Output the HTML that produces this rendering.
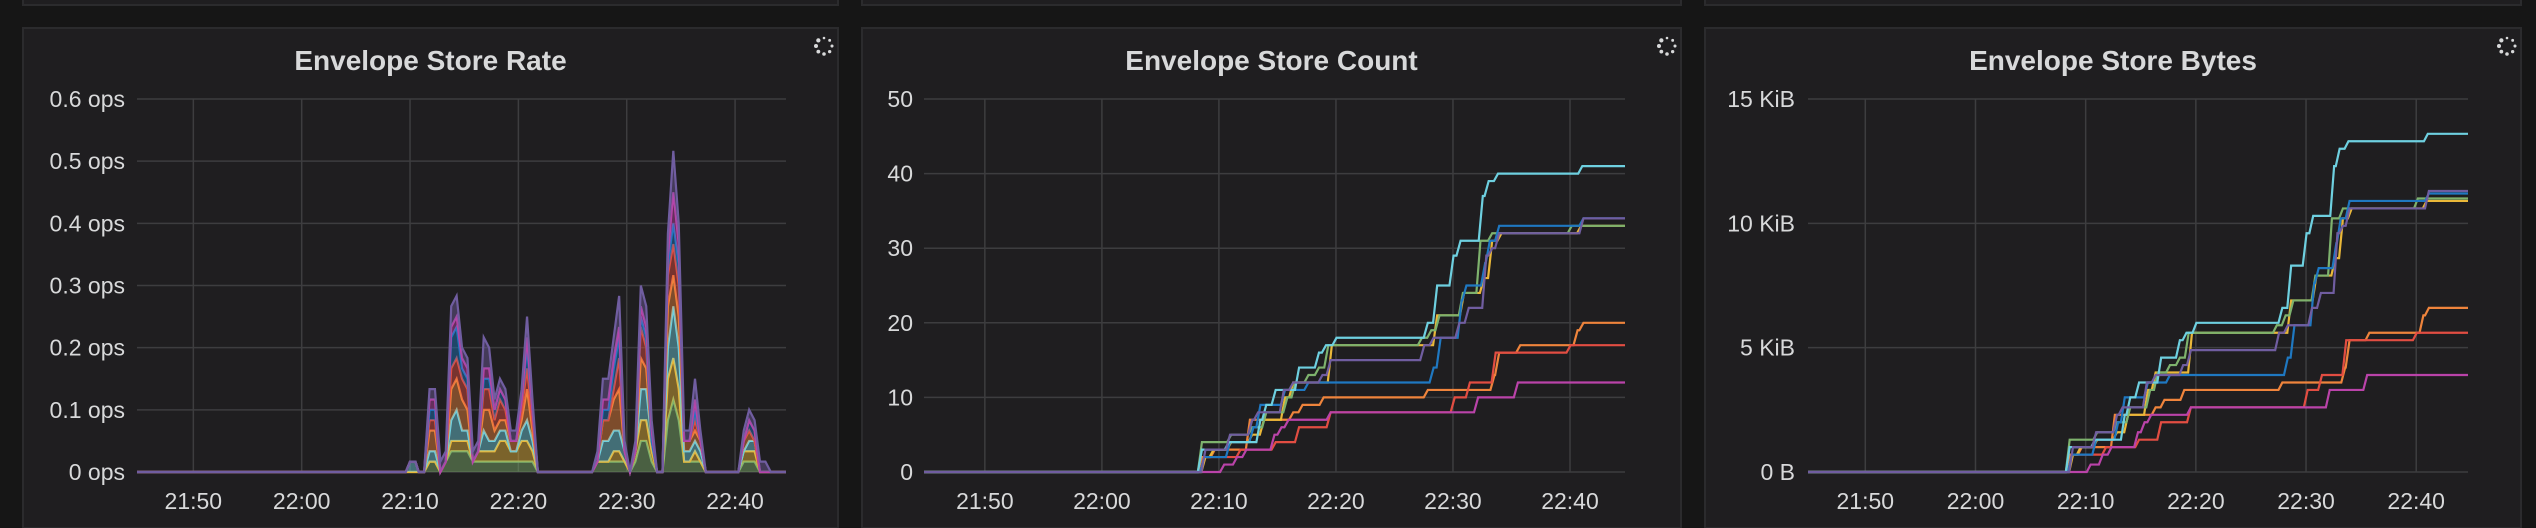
<!DOCTYPE html>
<html><head><meta charset="utf-8">
<style>
html,body{margin:0;padding:0;background:#161616;}
svg{display:block;}
text{font-family:"Liberation Sans",sans-serif;fill:#d8d9da;}
</style></head>
<body>
<svg id="root" width="2536" height="528" xmlns="http://www.w3.org/2000/svg">
  <rect x="0" y="0" width="2536" height="528" fill="#161616"/>
</svg>
<script>
// ---- shared data ----
const seriesNames = ["green","yellow","cyan","orange","red","blue","magenta","violet"];
const seriesColors = ["#7EB26D","#EAB839","#6ED0E0","#EF843C","#E24D42","#1F78C1","#BA43A9","#705DA0"];
const xTickLabels = ["21:50","22:00","22:10","22:20","22:30","22:40"];
const xTickMinutes = [-10,0,10,20,30,40]; // minutes relative to 22:00

// Rate chart: times (min after 22:00) and events/min per series (rate = n/60 ops)
const rateTimes = [9.6,10.0,10.5,10.8,11.3,11.8,12.3,12.8,13.3,13.8,14.3,14.8,15.3,15.8,16.3,16.8,17.3,17.8,18.3,18.8,19.3,19.8,20.3,20.8,21.3,21.8,26.8,27.3,27.8,28.3,28.8,29.3,29.8,30.3,30.8,31.3,31.8,32.3,32.8,33.3,33.8,34.3,34.8,35.3,35.8,36.3,36.8,37.3,40.3,40.8,41.3,41.8,42.3,42.8,43.3];
const rateGreen   = [0,0,0,0,0,1,1,0,1,2,2,2,2,1,1,1,1,1,1,1,1,1,1,1,1,0,0,1,1,1,1,1,1,0,1,3,3,1,0,0,5,7,5,1,1,1,1,0,0,1,1,1,0,0,0];
const rateYellow  = [0,0,0,0,0,0,0,0,0,1,1,1,1,0,1,1,1,1,2,2,1,1,2,2,1,0,0,0,0,0,1,1,0,0,1,2,2,1,0,0,4,4,3,0,0,1,0,0,0,1,1,1,0,0,0];
const rateCyan    = [0,1,1,0,0,1,1,0,0,2,3,1,1,0,0,2,1,1,1,1,0,0,1,2,1,0,0,0,2,2,2,2,1,0,0,3,3,1,0,0,3,5,4,1,1,1,1,0,0,0,1,1,0,0,0];
const rateOrange  = [0,0,0,0,0,2,2,0,0,3,3,3,2,0,0,2,3,1,1,1,1,1,1,3,1,0,0,0,2,2,3,4,0,0,0,3,2,0,0,0,4,3,3,1,1,1,1,0,0,1,1,0,0,0,0];
const rateRed     = [0,0,0,0,0,1,1,0,0,2,2,2,2,0,0,2,2,1,2,1,0,0,1,2,1,0,0,0,0,0,1,3,0,0,0,3,2,0,0,0,3,3,3,0,0,1,0,0,0,0,0,0,0,0,0];
const rateBlue    = [0,0,0,0,0,1,1,0,0,3,3,1,1,0,0,1,1,1,1,1,0,0,1,2,1,0,0,0,1,1,2,2,0,0,0,1,1,0,0,0,1,2,2,0,0,1,0,0,0,0,1,1,0,0,0];
const rateMagenta = [0,0,0,0,0,1,1,0,0,1,1,1,1,0,0,1,1,0,0,0,0,0,0,1,0,0,0,0,1,1,1,1,0,0,0,1,1,1,0,0,1,3,2,0,0,1,0,0,0,0,0,0,0,0,0];
const rateViolet  = [0,0,0,0,0,1,1,1,1,2,2,1,1,1,1,3,2,1,1,1,1,1,1,2,1,0,0,1,2,2,2,3,1,0,1,2,2,1,0,0,2,4,2,1,1,2,1,0,0,1,1,1,1,1,0];
const rateTickLabels = ["0 ops","0.1 ops","0.2 ops","0.3 ops","0.4 ops","0.5 ops","0.6 ops"];

// Count / bytes step series
const tGreen   = [8.2,10.7,12.5,13.7,15.5,16.2,17.3,18.2,19,27,27.8,28.5,30.5,32,33,39.8];
const cGreen   = [4,5,6,8,10,12,13,14,17,18,19,21,24,31,32,33];
const bGreen   = [1.3,1.6,2.0,2.6,3.3,4.0,4.3,4.6,5.6,5.9,6.3,6.9,7.9,10.2,10.6,11.0];
const tYellow  = [8.5,9.2,10.7,12.5,13.5,15.3,16,19.3,28.3,30.6,32.3,33,33.8,40.6];
const cYellow  = [2,3,4,5,7,10,12,17,21,24,26,31,32,33];
const bYellow  = [0.7,1.0,1.3,1.6,2.3,3.3,4.0,5.6,6.9,7.9,8.6,10.2,10.6,10.9];
const tCyan    = [8.2,10.5,13.2,13.7,14.5,16.5,18.2,18.8,19.7,27.5,28.3,29.7,30.3,32.2,32.7,33.5,40.7];
const cCyan    = [3,4,7,9,11,14,16,17,18,20,25,29,31,37,39,40,41];
const bCyan    = [1.0,1.3,2.3,3.0,3.6,4.6,5.3,5.6,6.0,6.6,8.3,9.6,10.3,12.3,13.0,13.3,13.6];
const tOrange  = [8.2,9.3,12.3,16,16.8,18.6,27.5,33.2,33.6,35.4,40.3,40.8];
const cOrange  = [2,3,7,8,9,10,11,13,16,17,19,20];
const bOrange  = [0.7,1.0,2.3,2.6,2.9,3.3,3.6,4.2,5.3,5.6,6.3,6.6];
const tRed     = [8.4,11.5,14.5,16.5,19.2,29.8,31.1,33.3,39.7];
const cRed     = [2,3,4,6,8,10,12,16,17];
const bRed     = [0.7,1.0,1.3,2.0,2.6,3.3,3.9,5.3,5.6];
const tBlue    = [8.4,10.6,12.6,13.2,15.3,17.3,28,28.6,30.4,30.8,32.4,32.8,33.6,40.8];
const cBlue    = [2,4,6,9,11,12,14,18,23,25,28,31,33,34];
const bBlue    = [0.7,1.3,2.0,3.0,3.6,3.9,4.6,5.9,7.6,8.2,9.2,10.2,10.9,11.2];
const tMagenta = [10.1,11.2,12,14.4,15,15.6,19.2,31.8,35.2];
const cMagenta = [1,2,3,5,6,7,8,10,12];
const bMagenta = [0.3,0.7,1.0,1.6,2.0,2.3,2.6,3.3,3.9];
const tViolet  = [8.5,10.6,12.5,13,15.2,16,18.5,19.2,27.2,28,30.2,31,32.5,33,33.6,40.8];
const cViolet  = [3,5,7,8,11,12,13,15,17,18,20,22,29,30,32,34];
const bViolet  = [1.0,1.6,2.3,2.6,3.6,3.9,4.3,4.9,5.6,5.9,6.6,7.2,9.6,9.9,10.6,11.3];
const countTickLabels = ["0","10","20","30","40","50"];
const bytesTickLabels = ["0 B","5 KiB","10 KiB","15 KiB"];

const NS = "http://www.w3.org/2000/svg";
const root = document.getElementById("root");
function mk(tag, attrs, parent){
  const e = document.createElementNS(NS, tag);
  for (const k in attrs) e.setAttribute(k, attrs[k]);
  (parent||root).appendChild(e);
  return e;
}
const T0 = -15.2, T1 = 44.7;

function panel(p){
  const strip = mk("rect",{x:p.x0,y:-10,width:p.x1-p.x0,height:15,fill:"#1f1e20",stroke:"#2b2b2d","stroke-width":2});
  
  
  const g = mk("g",{});
  
  
  const bg = mk("rect",{x:p.x0,y:28,width:p.x1-p.x0,height:500,fill:"#1f1e20",stroke:"#2b2b2d","stroke-width":2},g);
  
  
  const title = mk("text",{x:(p.x0+p.x1)/2,y:70,"text-anchor":"middle","font-size":"28","font-weight":"bold"},g);
  title.textContent = p.title;
  
  
  const sp = mk("g",{},g);
  
  
  const cx = p.x1-14, cy = 46;
  for (let i=0;i<8;i++){
    const a = i/8*Math.PI*2 - Math.PI/2;
    mk("circle",{cx:cx+8*Math.cos(a),cy:cy+8*Math.sin(a),r:1.3+i*0.12,fill:"#d8d9da"},sp);
  }
  const yTop=99, yBot=472;
  const xs = t => p.px0 + (t-T0)/(T1-T0)*(p.px1-p.px0);
  const ys = v => yBot - v/p.ymax*(yBot-yTop);
  const grid = mk("g",{},g);
  
  
  p.yticks.forEach((lab,i)=>{
    const v = i*p.ystep;
    mk("line",{x1:p.px0,x2:p.px1,y1:ys(v),y2:ys(v),stroke:"#3d3d3f","stroke-width":1.5},grid);
    const tl = mk("text",{x:p.labelX,y:ys(v)+8,"text-anchor":"end","font-size":"23"},g);
    tl.textContent = lab;
    
    
  });
  xTickMinutes.forEach((m,i)=>{
    mk("line",{x1:xs(m),x2:xs(m),y1:yTop,y2:yBot,stroke:"#3d3d3f","stroke-width":1.5},grid);
    const tl = mk("text",{x:xs(m),y:509,"text-anchor":"middle","font-size":"23"},g);
    tl.textContent = xTickLabels[i];
    
    
  });
  return {g,xs,ys};
}

// ---- Rate chart (stacked area) ----
(function(){
  const {g,xs,ys} = panel({name:"envelope-store-rate-panel",title:"Envelope Store Rate",x0:23,x1:838,px0:137,px1:786,ymax:0.6,ystep:0.1,yticks:rateTickLabels,labelX:125});
  const rateSeries = [rateGreen,rateYellow,rateCyan,rateOrange,rateRed,rateBlue,rateMagenta,rateViolet];
  const times = [T0].concat(rateTimes,[T1]);
  let base = times.map(()=>0);
  const layers=[];
  rateSeries.forEach((s,k)=>{
    const vals = [0].concat(s.map(n=>n/60),[0]);
    const top = base.map((b,i)=>b+(vals[i]||0));
    layers.push({base:base.slice(),top});
    base = top;
  });
  layers.forEach((L,k)=>{
    const fwd = times.map((t,i)=>xs(t)+","+ys(L.top[i])).join(" ");
    const back = times.map((t,i)=>xs(t)+","+ys(L.base[i])).reverse().join(" ");
    const area = mk("polygon",{points:fwd+" "+back,fill:seriesColors[k],"fill-opacity":0.45},g);
    
    
    const line = mk("polyline",{points:fwd,fill:"none",stroke:seriesColors[k],"stroke-width":2.2},g);
    
    
  });
})();

// ---- step charts ----
const stepT = [tGreen,tYellow,tCyan,tOrange,tRed,tBlue,tMagenta,tViolet];
const stepC = [cGreen,cYellow,cCyan,cOrange,cRed,cBlue,cMagenta,cViolet];
const stepB = [bGreen,bYellow,bCyan,bOrange,bRed,bBlue,bMagenta,bViolet];
function stepChart(cfg, vals){
  const {g,xs,ys} = panel(cfg);
  const order = [3,4,6,1,0,5,2,7];
  order.forEach(k=>{
    const ts = stepT[k], vs = vals[k];
    let pts = [[T0,0]];
    let prev = 0;
    ts.forEach((t,i)=>{ pts.push([t,prev]); pts.push([t+0.35,vs[i]]); prev = vs[i]; });
    pts.push([T1,prev]);
    const line = mk("polyline",{points:pts.map(q=>xs(q[0])+","+ys(q[1])).join(" "),fill:"none",stroke:seriesColors[k],"stroke-width":2.2},g);
    
    
  });
}
stepChart({name:"envelope-store-count-panel",prefix:"count",title:"Envelope Store Count",x0:862,x1:1681,px0:924,px1:1625,ymax:50,ystep:10,yticks:countTickLabels,labelX:913}, stepC);
stepChart({name:"envelope-store-bytes-panel",prefix:"bytes",title:"Envelope Store Bytes",x0:1705,x1:2521,px0:1808,px1:2468,ymax:15,ystep:5,yticks:bytesTickLabels,labelX:1795}, stepB);
</script>
</body></html>
